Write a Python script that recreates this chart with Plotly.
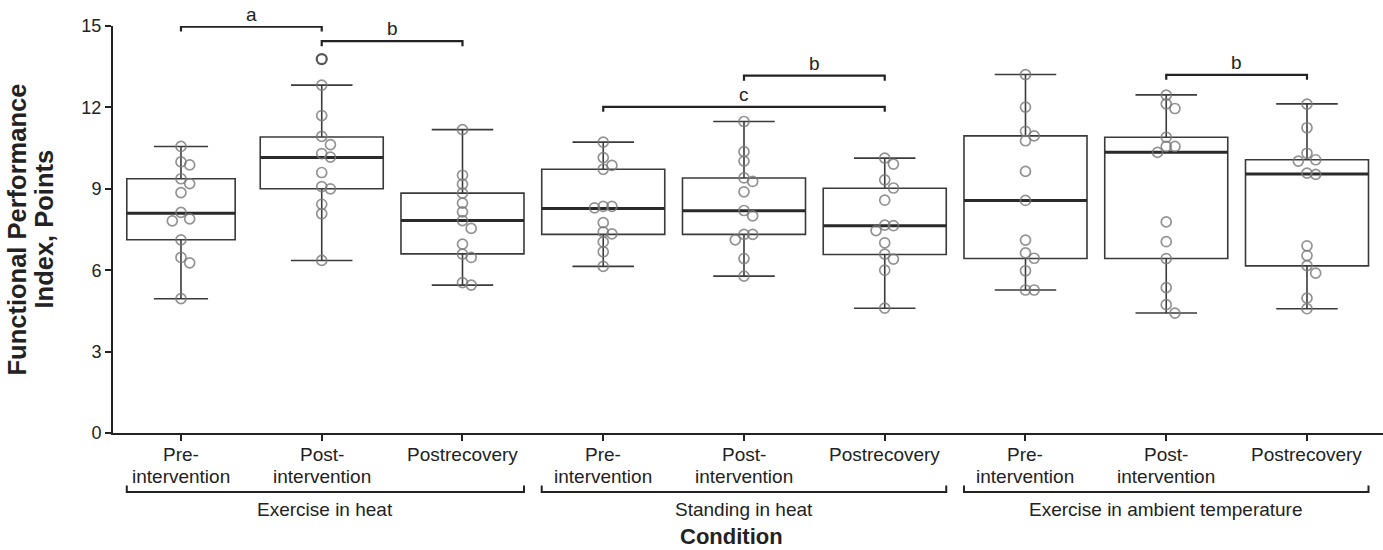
import math
import plotly.graph_objects as go

# ---------------- data ----------------
conditions = ["Exercise in heat", "Standing in heat", "Exercise in ambient temperature"]
timepoint_lines = [["Pre-", "intervention"], ["Post-", "intervention"], ["Postrecovery"]]

eh_pre = [10.56, 9.99, 9.88, 9.37, 9.19, 8.86, 8.13, 7.89, 7.82, 7.12, 6.47, 6.27, 4.95]
eh_post = [13.78, 12.82, 11.70, 10.93, 10.63, 10.30, 10.17, 9.60, 9.08, 9.00, 8.43, 8.08, 6.36]
eh_rec = [11.18, 9.50, 9.17, 8.84, 8.47, 8.15, 7.83, 7.54, 6.96, 6.59, 6.47, 5.54, 5.45]
sh_pre = [10.72, 10.15, 9.86, 9.72, 8.35, 8.35, 8.30, 7.75, 7.41, 7.34, 7.04, 6.68, 6.14]
sh_post = [11.48, 10.37, 10.02, 9.40, 9.27, 8.89, 8.20, 8.00, 7.32, 7.32, 7.12, 6.43, 5.78]
sh_rec = [10.13, 9.91, 9.33, 9.03, 8.58, 7.66, 7.64, 7.46, 7.01, 6.59, 6.41, 6.00, 4.60]
ea_pre = [13.21, 12.01, 11.12, 10.95, 10.77, 9.64, 8.57, 7.11, 6.64, 6.44, 5.98, 5.27, 5.27]
ea_post = [12.45, 12.13, 11.96, 10.90, 10.56, 10.56, 10.34, 7.78, 7.05, 6.43, 5.36, 4.73, 4.42]
ea_rec = [12.12, 11.25, 10.31, 10.07, 10.02, 9.58, 9.53, 6.90, 6.54, 6.17, 5.89, 4.97, 4.58]

q1 = [7.12, 9.00, 6.60, 7.32, 7.32, 6.58, 6.43, 6.43, 6.16]
median = [8.10, 10.15, 7.83, 8.27, 8.19, 7.64, 8.57, 10.35, 9.55]
q3 = [9.37, 10.91, 8.84, 9.72, 9.40, 9.02, 10.95, 10.90, 10.07]
whisker_low = [4.95, 6.36, 5.45, 6.14, 5.78, 4.60, 5.27, 4.42, 4.58]
whisker_high = [10.56, 12.82, 11.18, 10.72, 11.48, 10.13, 13.21, 12.46, 12.13]

# significance brackets: (from box, to box, label, level)
sig_from = [0, 1, 4, 3, 7]
sig_to = [1, 2, 5, 5, 8]
sig_label = ["a", "b", "b", "c", "b"]
sig_level = [14.98, 14.44, 13.17, 12.02, 13.20]

y_ticks = [0, 3, 6, 9, 12, 15]

# ---------------- styling ----------------
FONT = "Liberation Sans, Arial, Helvetica, sans-serif"
DARK = "#222222"
BOXLINE = "#3a3a3a"
box_widths = [0.77] + [0.874] * 8
PX_X = 140.75   # pixels per category unit
PX_Y = 27.15    # pixels per y unit
PLOT_H = 407.0  # plot area height in px

all_points = [eh_pre, eh_post, eh_rec, sh_pre, sh_post, sh_rec, ea_pre, ea_post, ea_rec]
n_box = len(all_points)


def swarm(vals, step=8.7, thresh=8.5):
    placed = []
    offs = []
    for v in vals:
        y = v * PX_Y
        chosen = 0.0
        for k in [0, 1, -1, 2, -2, 3, -3]:
            x = k * step
            if all(math.hypot(x - px, y - py) >= thresh for px, py in placed):
                chosen = x
                break
        placed.append((chosen, y))
        offs.append(chosen / PX_X)
    return offs


def below(px):
    """paper y for a distance of px pixels below the x axis"""
    return -px / PLOT_H


fig = go.Figure()

for i, vals in enumerate(all_points):
    w = box_widths[i]
    fig.add_trace(go.Box(
        x=[i], q1=[q1[i]], median=[median[i]], q3=[q3[i]],
        lowerfence=[whisker_low[i]], upperfence=[whisker_high[i]],
        width=w, whiskerwidth=0.5, boxpoints=False,
        line=dict(color=BOXLINE, width=1.6),
        fillcolor="rgba(255,255,255,0)",
        showlegend=False, hoverinfo="skip",
    ))
    fig.add_trace(go.Scatter(
        x=[i - w / 2, i + w / 2], y=[median[i], median[i]], mode="lines",
        line=dict(color="#2a2a2a", width=3), showlegend=False, hoverinfo="skip",
    ))
    inside = [v for v in vals if whisker_low[i] <= v <= whisker_high[i]]
    outside = [v for v in vals if not (whisker_low[i] <= v <= whisker_high[i])]
    offs = swarm(inside)
    fig.add_trace(go.Scatter(
        x=[i + o for o in offs], y=inside, mode="markers",
        marker=dict(symbol="circle-open", size=10,
                    line=dict(width=1.7, color="rgba(120,120,120,0.8)"),
                    color="rgba(120,120,120,0.8)"),
        showlegend=False, hoverinfo="skip", cliponaxis=False,
    ))
    if outside:
        fig.add_trace(go.Scatter(
            x=[i] * len(outside), y=outside, mode="markers",
            marker=dict(symbol="circle-open", size=10,
                        line=dict(width=2.2, color="#555555"), color="#555555"),
            showlegend=False, hoverinfo="skip", cliponaxis=False,
        ))

shapes = []
annotations = []

# significance brackets
tick_h = 5 / PX_Y
for a, b, lab, lev in zip(sig_from, sig_to, sig_label, sig_level):
    shapes.append(dict(type="path", xref="x", yref="y",
                       path=f"M {a},{lev - tick_h} L {a},{lev} L {b},{lev} L {b},{lev - tick_h}",
                       line=dict(color=DARK, width=2.2)))
    annotations.append(dict(x=(a + b) / 2, y=lev, xref="x", yref="y", text=lab,
                            showarrow=False, yanchor="bottom", yshift=0,
                            font=dict(family=FONT, size=19, color=DARK)))

# category tick labels (one annotation per text line, for tight line spacing)
for i in range(n_box):
    lines = timepoint_lines[i % 3]
    for j, txt in enumerate(lines):
        annotations.append(dict(x=i, y=below(21.4 + 22 * j), xref="x", yref="paper",
                                text=txt, showarrow=False, yanchor="middle",
                                font=dict(family=FONT, size=19, color=DARK)))

# group brackets under the axis
for g, name in enumerate(conditions):
    i0, i1 = 3 * g, 3 * g + 2
    x0 = i0 - box_widths[i0] / 2
    x1 = i1 + box_widths[i1] / 2
    shapes.append(dict(type="path", xref="x", yref="paper",
                       path=f"M {x0},{below(52.5)} L {x0},{below(59)} L {x1},{below(59)} L {x1},{below(52.5)}",
                       line=dict(color=DARK, width=2)))
    annotations.append(dict(x=(x0 + x1) / 2, y=below(76.4), xref="x", yref="paper", text=name,
                            showarrow=False, yanchor="middle",
                            font=dict(family=FONT, size=19, color=DARK)))

annotations.append(dict(x=0.487, y=below(103.5), xref="paper", yref="paper", text="<b>Condition</b>",
                        showarrow=False, yanchor="middle",
                        font=dict(family=FONT, size=22, color=DARK)))

# y-axis title, two rotated lines
for txt, xpx in [("<b>Functional Performance</b>", 16), ("<b>Index, Points</b>", 43)]:
    annotations.append(dict(x=(xpx - 113) / 1270, y=0.5, xref="paper", yref="paper",
                            text=txt, showarrow=False, textangle=-90,
                            xanchor="center", yanchor="middle",
                            font=dict(family=FONT, size=25.5, color=DARK)))

fig.update_layout(
    width=1383, height=550,
    margin=dict(l=113, r=0, t=26, b=117),
    paper_bgcolor="white", plot_bgcolor="white",
    shapes=shapes, annotations=annotations,
    font=dict(family=FONT, color=DARK),
    xaxis=dict(range=[-0.483, 8.54], tickmode="array", tickvals=list(range(n_box)),
               showticklabels=False, showgrid=False, zeroline=False,
               showline=True, linecolor=DARK, linewidth=2,
               ticks="outside", ticklen=6, tickwidth=2, tickcolor=DARK),
    yaxis=dict(range=[0, 15], tickmode="array", tickvals=y_ticks,
               showgrid=False, zeroline=False,
               showline=True, linecolor=DARK, linewidth=2,
               ticks="outside", ticklen=6, tickwidth=2, tickcolor=DARK,
               tickfont=dict(family=FONT, size=18, color=DARK)),
)

fig.write_html("out.html", config={"displayModeBar": False},
               post_script="document.body.style.margin='0px';document.body.style.overflow='hidden';")
